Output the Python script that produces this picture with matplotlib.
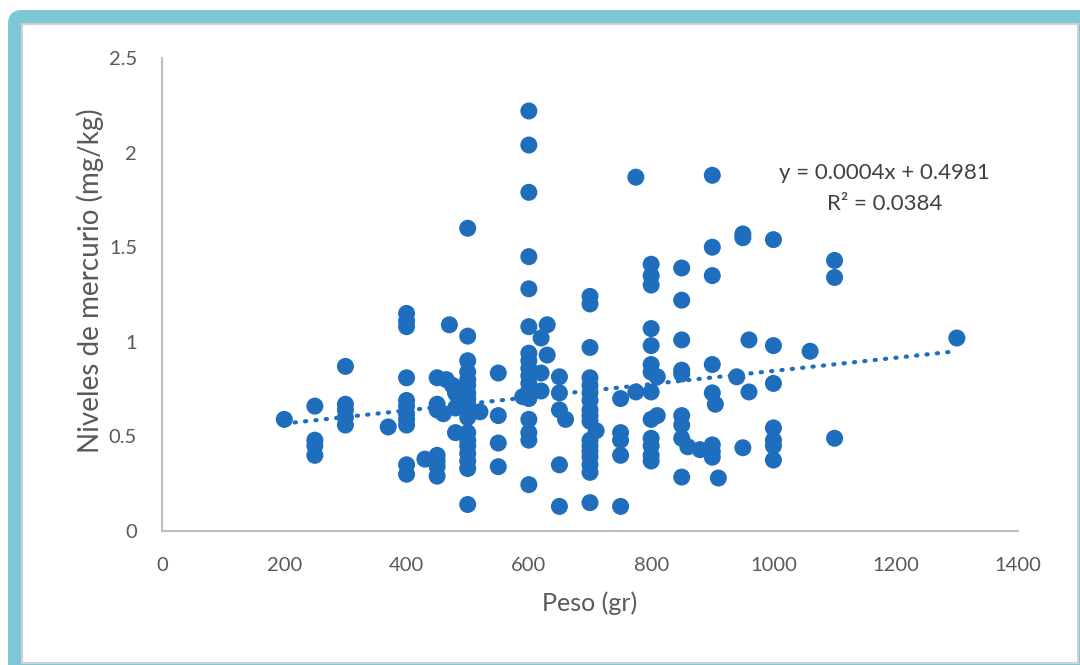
import matplotlib
matplotlib.use("Agg")
import matplotlib.pyplot as plt
from matplotlib.patches import FancyBboxPatch, Rectangle

# ---- data ----
peso = (
    [200]
    + [250] * 4
    + [300] * 5
    + [370]
    + [400] * 11
    + [430]
    + [450] * 7
    + [465, 470, 475, 480, 480, 480, 485, 460]
    + [500] * 18
    + [520]
    + [550] * 4
    + [590]
    + [600] * 17
    + [620] * 3
    + [630] * 2
    + [650] * 5
    + [660]
    + [700] * 17
    + [710]
    + [750] * 5
    + [775] * 2
    + [800] * 13
    + [810] * 2
    + [850] * 9
    + [860]
    + [880]
    + [900] * 8
    + [905, 910]
    + [940]
    + [950] * 3
    + [960] * 2
    + [1000] * 7
    + [1060]
    + [1100] * 3
    + [1300]
)

mercurio = (
    [0.59]
    + [0.66, 0.48, 0.45, 0.40]
    + [0.87, 0.67, 0.64, 0.60, 0.56]
    + [0.55]
    + [1.15, 1.11, 1.08, 0.81, 0.69, 0.66, 0.62, 0.59, 0.56, 0.35, 0.30]
    + [0.38]
    + [0.81, 0.67, 0.64, 0.40, 0.37, 0.34, 0.29]
    + [0.80, 1.09, 0.77, 0.73, 0.65, 0.52, 0.70, 0.62]
    + [1.60, 1.03, 0.90, 0.84, 0.80, 0.77, 0.73, 0.70, 0.67, 0.63, 0.60,
       0.52, 0.48, 0.45, 0.41, 0.37, 0.33, 0.14]
    + [0.63]
    + [0.835, 0.61, 0.465, 0.34]
    + [0.71]
    + [2.22, 2.04, 1.79, 1.45, 1.28, 1.08, 0.94, 0.90, 0.86, 0.82, 0.78,
       0.74, 0.70, 0.59, 0.52, 0.48, 0.245]
    + [1.02, 0.835, 0.74]
    + [1.09, 0.93]
    + [0.815, 0.73, 0.64, 0.35, 0.13]
    + [0.59]
    + [1.24, 1.20, 0.97, 0.81, 0.77, 0.73, 0.69, 0.64, 0.61, 0.58, 0.48,
       0.45, 0.42, 0.39, 0.35, 0.31, 0.15]
    + [0.53]
    + [0.70, 0.52, 0.48, 0.40, 0.13]
    + [1.87, 0.735]
    + [1.41, 1.35, 1.30, 1.07, 0.98, 0.88, 0.84, 0.735, 0.59, 0.49, 0.45,
       0.40, 0.37]
    + [0.815, 0.61]
    + [1.39, 1.22, 1.01, 0.85, 0.83, 0.61, 0.56, 0.49, 0.285]
    + [0.445]
    + [0.43]
    + [1.88, 1.50, 1.35, 0.88, 0.73, 0.455, 0.42, 0.39]
    + [0.67, 0.28]
    + [0.815]
    + [1.57, 1.55, 0.44]
    + [1.01, 0.735]
    + [1.54, 0.98, 0.78, 0.545, 0.48, 0.45, 0.375]
    + [0.95]
    + [1.43, 1.34, 0.49]
    + [1.02]
)

x_ticks = [0, 200, 400, 600, 800, 1000, 1200, 1400]
y_ticks = [0, 0.5, 1, 1.5, 2, 2.5]
y_ticklabels = ["0", "0.5", "1", "1.5", "2", "2.5"]
# trendline as drawn in the picture (label shows the rounded coefficients)
trend_slope = 0.000348
trend_intercept = 0.4981
equation_text = "y = 0.0004x + 0.4981"
r2_text = "R² = 0.0384"
x_label = "Peso (gr)"
y_label = "Niveles de mercurio (mg/kg)"

# ---- styling ----
plt.rcParams["font.family"] = ["Lato", "DejaVu Sans"]
BLUE = "#1F6EBD"
GRAY_TEXT = "#595959"
AXIS_GRAY = "#BFBFBF"
FRAME = "#7EC7D7"

W, H = 1080, 665
fig = plt.figure(figsize=(W / 100, H / 100), dpi=100)
fig.patch.set_facecolor("white")

# outer frame: teal rounded border with white inner panel
bg = fig.add_axes([0, 0, 1, 1], zorder=-10)
bg.set_xlim(0, W)
bg.set_ylim(H, 0)
bg.axis("off")
bg.add_patch(FancyBboxPatch((8, 10), W + 30, H + 30,
                            boxstyle="round,pad=0,rounding_size=14",
                            facecolor=FRAME, edgecolor="none"))
bg.add_patch(Rectangle((22, 24), 1056, 639, facecolor="white",
                       edgecolor="#D0D0D0", linewidth=1.5))

ax = fig.add_axes([162 / W, 1 - 531 / H, (1018 - 162) / W, (531 - 58) / H])
ax.set_facecolor("none")
ax.scatter(peso, mercurio, s=150, color=BLUE, edgecolors="none", zorder=3)

# linear trendline (Excel-style dotted) over the data's x range
x0, x1 = min(peso), max(peso)
ax.plot([x0, x1], [trend_slope * x0 + trend_intercept, trend_slope * x1 + trend_intercept],
        linestyle=(0, (0.3, 2.2)), color=BLUE, linewidth=3, zorder=2,
        dash_capstyle="round")

ax.set_xlim(0, 1400)
ax.set_ylim(0, 2.5)
ax.set_xticks(x_ticks)
ax.set_yticks(y_ticks)
ax.set_yticklabels(y_ticklabels)
ax.tick_params(length=0, labelsize=14.5, colors=GRAY_TEXT)
ax.tick_params(axis="x", pad=19)
ax.tick_params(axis="y", pad=18)
for side in ["top", "right"]:
    ax.spines[side].set_visible(False)
for side in ["left", "bottom"]:
    ax.spines[side].set_color(AXIS_GRAY)
    ax.spines[side].set_linewidth(1.5)

ax.set_xlabel(x_label, fontsize=18, color=GRAY_TEXT)
ax.set_ylabel(y_label, fontsize=20, color=GRAY_TEXT)
ax.xaxis.set_label_coords(0.5, -0.128)
ax.yaxis.set_label_coords(-0.068, 0.53)

ax.text(1182, 1.89, equation_text, fontsize=16, color="#404040",
        ha="center", va="center")
ax.text(1182, 1.73, r2_text, fontsize=16, color="#404040",
        ha="center", va="center")

fig.savefig("out.png", dpi=100)
